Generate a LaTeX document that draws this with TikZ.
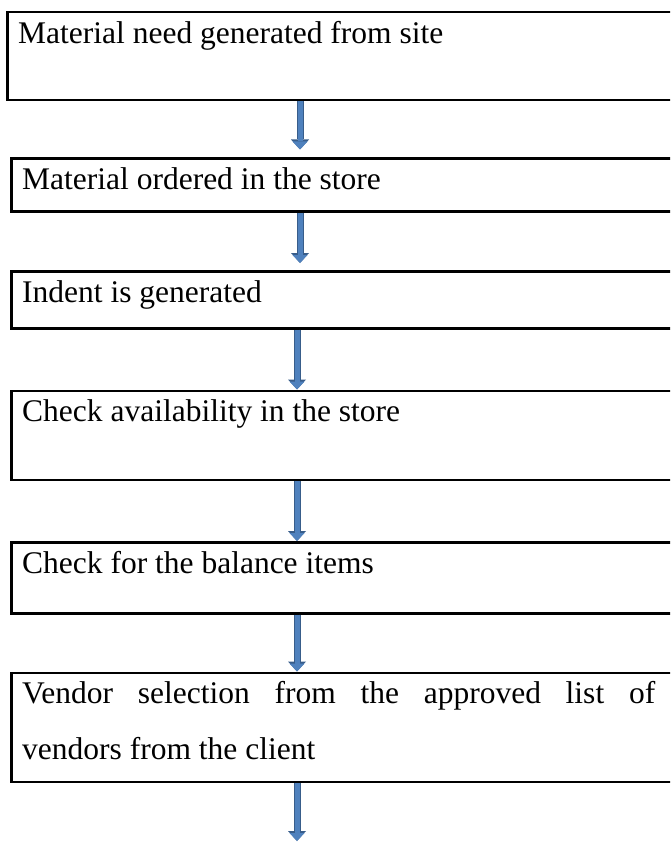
\documentclass[tikz,border=0pt]{standalone}
\usepackage{fontspec}
\setmainfont{Liberation Serif}
\usetikzlibrary{positioning,arrows.meta}
\definecolor{arrowblue}{RGB}{79,129,189}
\definecolor{arrowedge}{RGB}{56,93,138}

\begin{document}
\begin{tikzpicture}[
    x=1pt, y=-1pt,
    stepbox/.style={rectangle, draw, line width=2.5pt, inner sep=0pt, minimum width=720pt, anchor=north west},
    steptext/.style={anchor=north west, inner sep=0pt, text width=633pt, align=justify, font=\fontsize{31.5}{56}\selectfont, execute at begin node={\tolerance=9999\rule{0pt}{30pt}}},
    flow/.style={draw=arrowblue, line width=5pt, -{Triangle[width=15pt, length=8pt, line width=0pt]},
        preaction={draw=arrowedge, line width=7pt, -{Triangle[width=18pt, length=10pt, line width=0pt]}}}
]
    \useasboundingbox (0,0) rectangle (670,842);
    \clip (0,0) rectangle (670,842);

    % Boxes
    \node[stepbox, minimum height=88pt] (b1) at (6,11) {};
    \node[stepbox, minimum height=53pt, below right=56pt and 4pt of b1.south west] (b2) {};
    \node[stepbox, minimum height=57pt, below right=57pt and 0pt of b2.south west] (b3) {};
    \node[stepbox, minimum height=89pt, below right=60pt and 0pt of b3.south west] (b4) {};
    \node[stepbox, minimum height=71pt, below right=60pt and 0pt of b4.south west] (b5) {};
    \node[stepbox, minimum height=109pt, below right=57pt and 0pt of b5.south west] (b6) {};

    % Texts
    \node[steptext] (t1) at ([shift={(12,2)}]b1.north west) {Material need generated from site};
    \node[steptext] (t2) at ([shift={(12,2)}]b2.north west) {Material ordered in the store};
    \node[steptext] (t3) at ([shift={(12,2)}]b3.north west) {Indent is generated};
    \node[steptext] (t4) at ([shift={(12,2)}]b4.north west) {Check availability in the store};
    \node[steptext] (t5) at ([shift={(12,2)}]b5.north west) {Check for the balance items};
    \node[steptext] (t6) at ([shift={(12,2)}]b6.north west) {Vendor selection from the approved list of\linebreak vendors from the client};

    % Arrows
    \coordinate (upper) at (300,0);
    \coordinate (lower) at (297,0);
    \coordinate (tail) at (297,841);
    \draw[flow, shorten >=8pt] (b1.south -| upper) -- (b2.north -| upper);
    \draw[flow, shorten >=7pt] (b2.south -| upper) -- (b3.north -| upper);
    \draw[flow] (b3.south -| lower) -- (b4.north -| lower);
    \draw[flow] (b4.south -| lower) -- (b5.north -| lower);
    \draw[flow] (b5.south -| lower) -- (b6.north -| lower);
    \draw[flow] (b6.south -| lower) -- (tail);
\end{tikzpicture}
\end{document}
